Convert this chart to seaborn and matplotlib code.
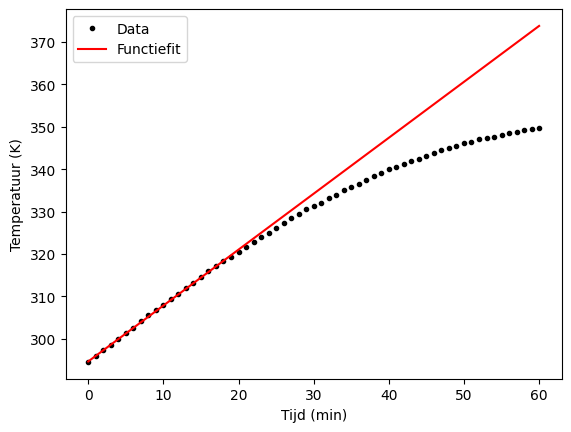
import numpy as np
import pandas as pd
import matplotlib
matplotlib.use("Agg")
import matplotlib.pyplot as plt
import seaborn as sns

tijd = list(range(0, 61))
temperatuur = [
    294.5, 295.9, 297.3, 298.5, 299.9, 301.3, 302.4, 304.2, 305.5, 306.7,
    307.9, 309.3, 310.6, 311.9, 313.1, 314.5, 315.9, 317.2, 318.3, 319.2,
    320.4, 321.6, 322.7, 323.9, 324.9, 326.0, 327.2, 328.4, 329.3, 330.6,
    331.2, 332.1, 333.1, 334.0, 335.0, 335.7, 336.6, 337.5, 338.3, 339.0,
    340.0, 340.6, 341.3, 342.0, 342.5, 343.2, 343.8, 344.4, 345.1, 345.5,
    346.1, 346.5, 347.0, 347.4, 347.7, 348.1, 348.6, 348.8, 349.3, 349.5,
    349.8,
]
fit_intercept = 294.6
fit_slope = 1.32

df = pd.DataFrame({"t": tijd, "T": temperatuur})
df["fit"] = fit_intercept + fit_slope * df["t"]

fig, ax = plt.subplots(figsize=(6.4, 4.8), dpi=100)
sns.lineplot(data=df, x="t", y="T", ax=ax, linestyle="none", marker=".",
             markersize=6, color="k", markeredgecolor="k", markeredgewidth=1,
             label="Data")
sns.lineplot(data=df, x="t", y="fit", ax=ax, color="red", label="Functiefit")
ax.set_xlabel("Tijd (min)")
ax.set_ylabel("Temperatuur (K)")
ax.legend(loc="upper left")
fig.savefig("out.png", dpi=100, bbox_inches="tight")
